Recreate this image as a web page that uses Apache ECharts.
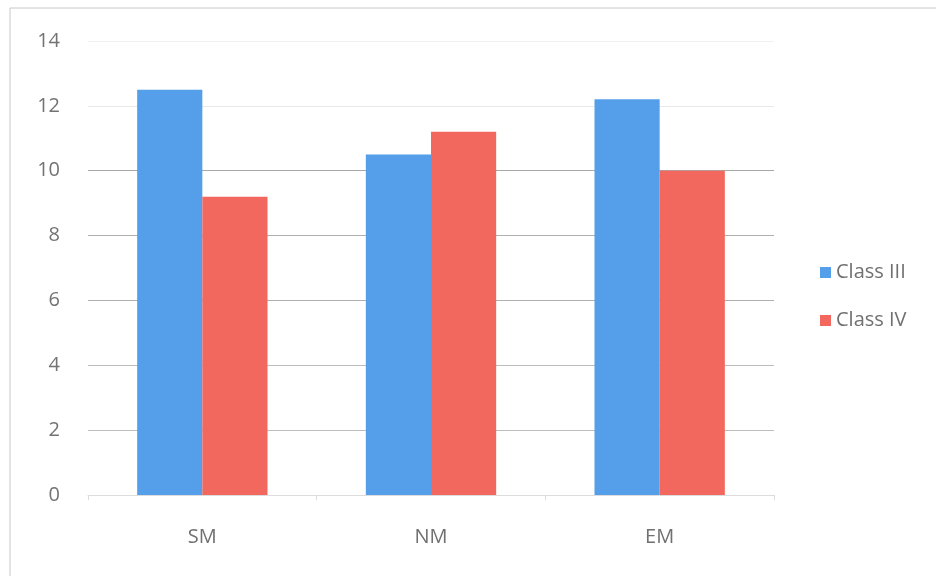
<!DOCTYPE html>
<html><head><meta charset="utf-8">
<script src="https://cdn.jsdelivr.net/npm/echarts@6/dist/echarts.min.js"></script>
<style>html,body{margin:0;padding:0;background:#fff}#c{width:936px;height:576px}</style>
</head><body><div id="c"></div>
<script>
const categories = ['SM', 'NM', 'EM'];
const classIII = [12.5, 10.5, 12.2];
const classIV = [9.2, 11.2, 10.0];
const seriesNames = ['Class III', 'Class IV'];

const chart = echarts.init(document.getElementById('c'));
const font = '"Open Sans", "Liberation Sans", sans-serif';
chart.setOption({
  animation: false,
  backgroundColor: '#fff',
  graphic: [{
    type: 'rect', shape: { x: 10, y: 8, width: 1000, height: 700 },
    style: { fill: 'none', stroke: '#c8c8c8', lineWidth: 1 }
  }],
  grid: { left: 88, right: 162, top: 41, bottom: 81, containLabel: false },
  legend: {
    orient: 'vertical', left: 815, top: 257, itemGap: 27,
    itemWidth: 11, itemHeight: 11, icon: 'rect', itemStyle: { borderWidth: 0 },
    textStyle: { fontFamily: font, fontSize: 20, color: '#707070', lineHeight: 21 },
    data: seriesNames
  },
  xAxis: {
    type: 'category', data: categories,
    axisLine: { lineStyle: { color: '#dcdcdc' } },
    axisTick: { show: true, alignWithLabel: false, lineStyle: { color: '#dcdcdc' } },
    axisLabel: { fontFamily: font, fontSize: 20, color: '#707070', margin: 32 }
  },
  yAxis: {
    type: 'value', min: 0, max: 14, interval: 2,
    axisLine: { show: false }, axisTick: { show: false },
    axisLabel: { fontFamily: font, fontSize: 20, color: '#737373', margin: 28 },
    splitLine: { lineStyle: { color: ['#e6e6e6', '#bdbdbd', '#bdbdbd', '#b0b0b0', '#b0b0b0', '#a8a8a8', '#e8e8e8', '#f0f0f0'] } }
  },
  series: [
    { name: seriesNames[0], type: 'bar', data: classIII, barGap: '0%', barCategoryGap: '43%',
      itemStyle: { color: '#559FEA' } },
    { name: seriesNames[1], type: 'bar', data: classIV,
      itemStyle: { color: '#F2675E' } }
  ]
});
</script></body></html>
